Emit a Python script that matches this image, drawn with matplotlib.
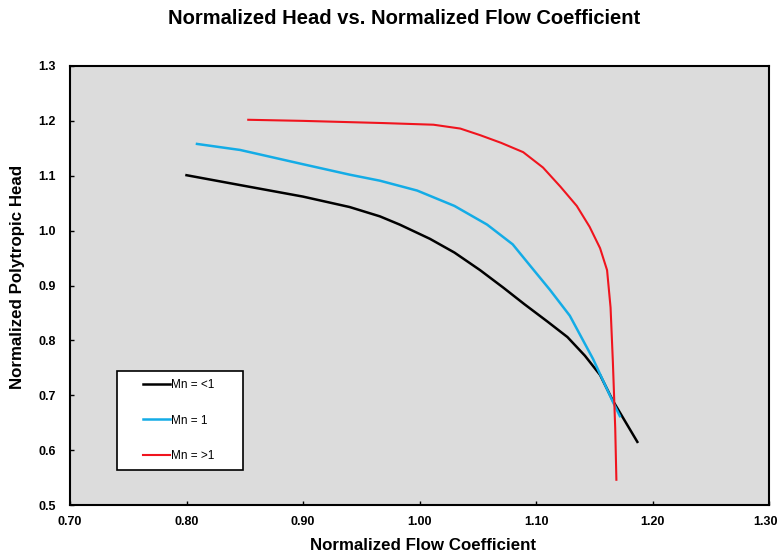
import matplotlib
matplotlib.use("Agg")
import matplotlib.pyplot as plt
import matplotlib.transforms as mtransforms
from matplotlib.patches import Rectangle

plt.rcParams['font.family'] = ['Liberation Sans', 'DejaVu Sans']

# Data
black_x = [0.800, 0.846, 0.900, 0.940, 0.966, 0.983, 1.009, 1.030, 1.052, 1.072, 1.090, 1.110, 1.127, 1.142, 1.155, 1.166, 1.187]
black_y = [1.101, 1.083, 1.062, 1.043, 1.026, 1.011, 0.985, 0.960, 0.928, 0.896, 0.866, 0.834, 0.806, 0.772, 0.737, 0.690, 0.615]

cyan_x = [0.809, 0.846, 0.900, 0.940, 0.966, 0.998, 1.030, 1.058, 1.080, 1.095, 1.112, 1.129, 1.149, 1.166, 1.172]
cyan_y = [1.158, 1.147, 1.121, 1.102, 1.091, 1.073, 1.045, 1.011, 0.975, 0.936, 0.892, 0.845, 0.766, 0.688, 0.662]

red_x = [0.853, 0.900, 0.969, 1.012, 1.035, 1.052, 1.070, 1.089, 1.106, 1.121, 1.135, 1.146, 1.155, 1.161, 1.164, 1.166, 1.168, 1.169]
red_y = [1.202, 1.200, 1.196, 1.193, 1.186, 1.174, 1.160, 1.143, 1.115, 1.080, 1.045, 1.007, 0.968, 0.928, 0.860, 0.760, 0.640, 0.546]

labels = ["Mn = <1", "Mn = 1", "Mn = >1"]
x_ticks = [0.70, 0.80, 0.90, 1.00, 1.10, 1.20, 1.30]
y_ticks = [0.5, 0.6, 0.7, 0.8, 0.9, 1.0, 1.1, 1.2, 1.3]

fig = plt.figure(figsize=(7.79, 5.56), dpi=100)
ax = fig.add_axes([70/779, 1-505/556, (769-70)/779, (505-66)/556])
ax.set_facecolor('#dcdcdc')

ax.plot(black_x, black_y, color='black', lw=1.8, label=labels[0])
ax.plot(cyan_x, cyan_y, color='#14ace6', lw=1.8, label=labels[1])
ax.plot(red_x, red_y, color='#f0141e', lw=1.5, label=labels[2])

ax.set_xlim(0.70, 1.30)
ax.set_ylim(0.5, 1.3)
ax.set_xticks(x_ticks)
ax.set_xticklabels([f"{v:.2f}" for v in x_ticks], fontweight='bold', fontsize=9)
ax.set_yticks(y_ticks)
ax.set_yticklabels([f"{v:.1f}" for v in y_ticks], fontweight='bold', fontsize=9)
ax.tick_params(axis='x', direction='in', length=3, width=1, pad=8)
ax.tick_params(axis='y', direction='in', length=3, width=1, pad=10)
for s in ax.spines.values():
    s.set_linewidth(1.5)
    s.set_color('black')

# keep the last x tick label inside the figure
last = ax.get_xticklabels()[-1]
last.set_transform(last.get_transform() + mtransforms.ScaledTranslation(-4/100, 0, fig.dpi_scale_trans))

fig.text(404/779, 1-19/556, "Normalized Head vs. Normalized Flow Coefficient",
         ha='center', va='center', fontsize=14.5, fontweight='bold')
fig.text(423/779, 1-545/556, "Normalized Flow Coefficient",
         ha='center', va='center', fontsize=12.2, fontweight='bold')
fig.text(18/779, 1-277/556, "Normalized Polytropic Head", rotation=90,
         ha='center', va='center', fontsize=12.2, fontweight='bold')

# legend frame
rect = Rectangle((47/699, 35/439), 126/699, 99/439, transform=ax.transAxes,
                 facecolor='white', edgecolor='black', lw=1.2, zorder=4)
ax.add_patch(rect)
leg = ax.legend(loc='upper left', bbox_to_anchor=(73/699, 126/439), frameon=False,
                fontsize=8.5, handlelength=2.3, handletextpad=0.1, labelspacing=2.0,
                borderpad=0, borderaxespad=0)
leg.set_zorder(5)

fig.savefig("out.png", dpi=100)
